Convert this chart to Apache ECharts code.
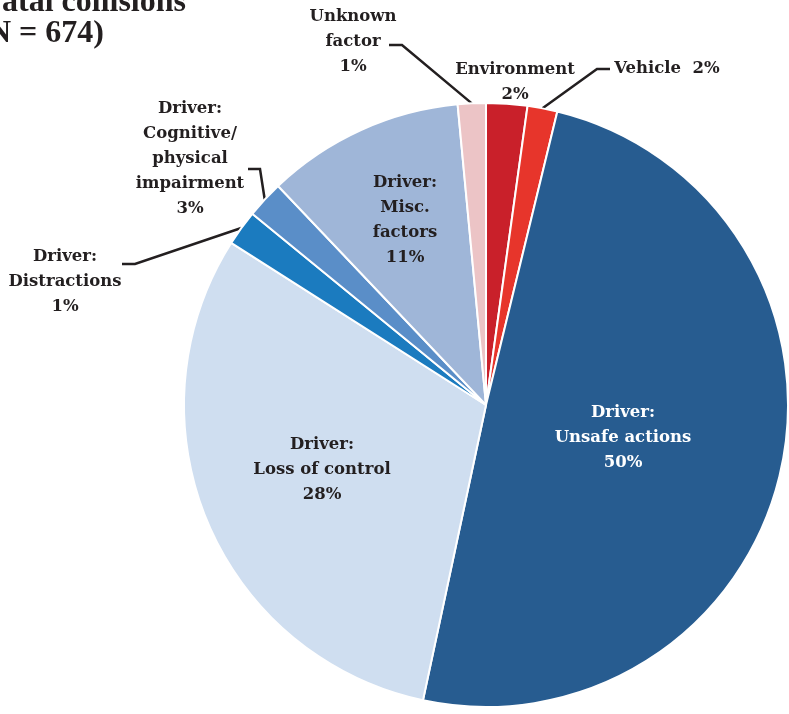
<!DOCTYPE html>
<html>
<head>
<meta charset="utf-8">
<script src="https://cdn.jsdelivr.net/npm/echarts@6/dist/echarts.min.js"></script>
<style>
  html, body { margin: 0; padding: 0; background: #fff; }
  #chart { width: 789px; height: 714px; }
</style>
</head>
<body>
<div id="chart"></div>
<script>
  // slices clockwise from 12 o'clock
  var categories = ['Environment', 'Vehicle', 'Driver:\nUnsafe actions', 'Driver:\nLoss of control',
    'Driver:\nDistractions', 'Driver:\nCognitive/\nphysical\nimpairment', 'Driver:\nMisc.\nfactors', 'Unknown\nfactor'];
  // slice sizes (share of the circle, %)
  var shares = [2.2, 1.6, 49.6, 30.7, 1.9, 2.0, 10.6, 1.5];
  // percentages as printed
  var pctLabels = ['2%', '2%', '50%', '28%', '1%', '3%', '11%', '1%'];
  var colors = ['#c9202a', '#e7352b', '#275c90', '#cfdef0', '#1b7bbf', '#5a8ec8', '#9fb6d8', '#ecc4c6'];

  // label centres and leader-line bends (layout only)
  var labelPos = [[515, 82], [667, 69], [623, 438], [322, 470], [65, 282], [190, 159], [405, 220], [353, 42]];
  var leader = {
    1: [[597, 69], [610, 69]],
    4: [[135, 264], [122, 264]],
    5: [[260, 169], [248, 169]],
    7: [[402, 45], [389, 45]]
  };

  var chart = echarts.init(document.getElementById('chart'));
  var font = 'DejaVu Serif';

  var pieData = shares.map(function (v, i) {
    var text = i === 1 ? 'Vehicle  ' + pctLabels[i] : categories[i] + '\n' + pctLabels[i];
    return {
      name: categories[i],
      value: v,
      itemStyle: { color: colors[i] },
      label: {
        show: true,
        formatter: text,
        color: i === 2 ? '#ffffff' : '#231f20'
      },
      labelLine: { show: !!leader[i] }
    };
  });

  chart.setOption({
    animation: false,
    graphic: [
      {
        type: 'text', x: 186, y: 19,
        style: { text: 'Fatal collisions', align: 'right', verticalAlign: 'bottom',
          font: 'bold 32px "Liberation Serif"', fill: '#231f20' }
      },
      {
        type: 'text', x: 104, y: 50,
        style: { text: '(N = 674)', align: 'right', verticalAlign: 'bottom',
          font: 'bold 32px "Liberation Serif"', fill: '#231f20' }
      }
    ],
    series: [
      {
        type: 'pie',
        center: [486, 405],
        radius: 302,
        startAngle: 90,
        clockwise: true,
        avoidLabelOverlap: false,
        itemStyle: { borderColor: '#ffffff', borderWidth: 2 },
        label: {
          position: 'outside',
          fontFamily: font,
          fontWeight: 'bold',
          fontSize: 16.5,
          lineHeight: 25,
          align: 'center'
        },
        labelLine: {
          lineStyle: { color: '#231f20', width: 2.5 },
          length: 10, length2: 10
        },
        labelLayout: function (params) {
          var i = params.dataIndex;
          var out = {
            x: labelPos[i][0],
            y: labelPos[i][1],
            align: 'center',
            verticalAlign: 'middle'
          };
          if (leader[i] && params.labelLinePoints) {
            var a = params.labelLinePoints[0];
            out.labelLinePoints = [a, leader[i][0], leader[i][1]];
          }
          return out;
        },
        data: pieData
      }
    ]
  });
</script>
</body>
</html>
